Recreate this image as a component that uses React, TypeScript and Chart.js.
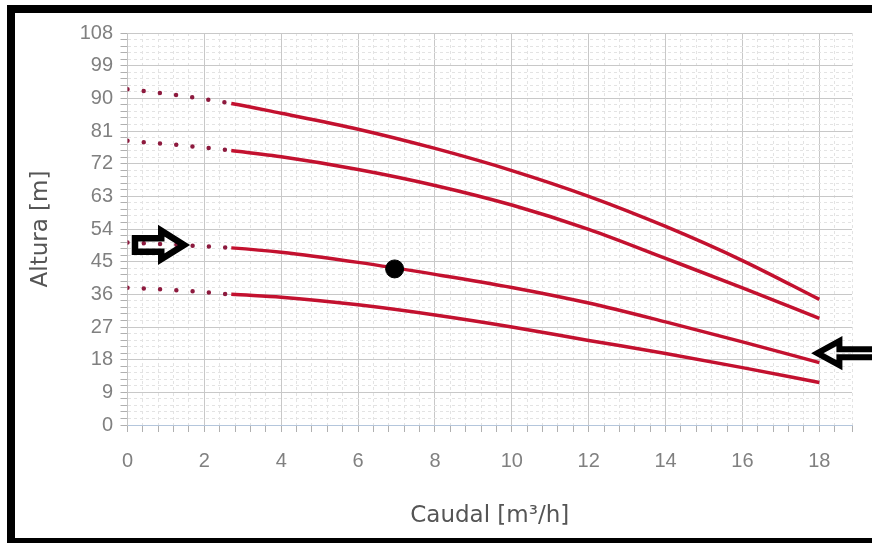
import React, { useEffect, useRef } from 'react';
import { Chart, registerables } from 'chart.js';

Chart.register(...registerables);

// ---- data ----
const flowValues = [0, 1.35, 2.7, 4, 6, 8, 10, 12, 14, 16, 18];
const headCurve1 = [92.5, 90.8, 88.6, 85.9, 81.5, 76.2, 70.1, 63.0, 54.7, 45.3, 34.6];
const headCurve2 = [78.3, 77.1, 75.6, 73.9, 70.4, 66.0, 60.6, 53.9, 45.9, 37.8, 29.4];
const headCurve3 = [50.3, 49.6, 48.8, 47.6, 44.8, 41.5, 37.9, 33.6, 28.4, 22.9, 17.2];
const headCurve4 = [37.8, 37.1, 36.0, 35.2, 33.1, 30.3, 27.0, 23.3, 19.7, 15.8, 11.7];
const dottedUntilFlow = 2.7;

const operatingPointX = [6.95];
const operatingPointY = [43.0];

const arrowTipX = [1.47, 17.95];
const arrowTipY = [49.6, 19.8];
const arrowPointsRight = [true, false];

const xMin = 0;
const xMax = 18.85;
const xMinorStep = 0.4;
const xMajorStep = 2;
const yMin = 0;
const yMax = 108;
const yMinorStep = 1.8;
const yMajorStep = 9;

const xAxisTitle = 'Caudal [m³/h]';
const yAxisTitle = 'Altura [m]';

// ---- styles ----
const LINE_COLOR = '#c3112f';
const DOT_COLOR = '#8d1a3e';
const MAJOR_GRID = '#c8c8c8';
const MINOR_GRID = '#e3e3e3';

const isMultiple = (v: number, step: number) => Math.abs(v / step - Math.round(v / step)) < 1e-6;
const isDotted = (ctx: any) => ctx.p1.parsed.x <= dottedUntilFlow + 1e-9;

const curveDataset = (values: number[]) => ({
  data: flowValues.map((x, i) => ({ x, y: values[i] })),
  showLine: true,
  pointRadius: 0,
  pointHoverRadius: 0,
  borderColor: LINE_COLOR,
  borderWidth: 3.5,
  cubicInterpolationMode: 'monotone' as const,
  order: 1,
  segment: {
    borderDash: (ctx: any) => (isDotted(ctx) ? [0, 16.3] : undefined),
    borderCapStyle: (ctx: any) => (isDotted(ctx) ? 'round' : 'butt'),
    borderColor: (ctx: any) => (isDotted(ctx) ? DOT_COLOR : LINE_COLOR),
    borderWidth: (ctx: any) => (isDotted(ctx) ? 4.5 : 3.5),
  },
});

const arrowPlugin = {
  id: 'hollowArrows',
  afterDraw(chart: any) {
    const { ctx, scales } = chart;
    const xs = scales.x;
    const ys = scales.y;
    arrowTipX.forEach((vx, i) => {
      const tx = xs.getPixelForValue(vx);
      const ty = ys.getPixelForValue(arrowTipY[i]);
      const right = arrowPointsRight[i];
      const d = right ? -1 : 1; // direction from tip toward tail
      const headLen = right ? 22.75 : 22;
      const headHalf = right ? 14.25 : 12;
      const bodyHalf = right ? 6.75 : 4;
      const total = right ? 49 : 70;
      ctx.save();
      ctx.beginPath();
      ctx.moveTo(tx, ty);
      ctx.lineTo(tx + d * headLen, ty - headHalf);
      ctx.lineTo(tx + d * headLen, ty - bodyHalf);
      ctx.lineTo(tx + d * total, ty - bodyHalf);
      ctx.lineTo(tx + d * total, ty + bodyHalf);
      ctx.lineTo(tx + d * headLen, ty + bodyHalf);
      ctx.lineTo(tx + d * headLen, ty + headHalf);
      ctx.closePath();
      ctx.lineWidth = right ? 6.5 : 6;
      ctx.lineJoin = 'miter';
      ctx.strokeStyle = '#000';
      ctx.stroke();
      ctx.restore();
    });
  },
};

export default function App() {
  const ref = useRef<HTMLCanvasElement>(null);

  useEffect(() => {
    const canvas = ref.current;
    if (!canvas) return;
    const chart = new Chart(canvas, {
      type: 'scatter',
      data: {
        datasets: [
          {
            data: operatingPointX.map((x, i) => ({ x, y: operatingPointY[i] })),
            pointRadius: 9,
            pointHoverRadius: 9,
            pointBackgroundColor: '#000',
            pointBorderColor: '#000',
            showLine: false,
            order: 0,
          } as any,
          curveDataset(headCurve1) as any,
          curveDataset(headCurve2) as any,
          curveDataset(headCurve3) as any,
          curveDataset(headCurve4) as any,
        ],
      },
      options: {
        responsive: false,
        devicePixelRatio: 1,
        animation: false,
        layout: { padding: { left: 15, top: 33, right: 20, bottom: 5 } },
        plugins: {
          legend: { display: false },
          tooltip: { enabled: false },
        },
        scales: {
          x: {
            type: 'linear',
            min: xMin,
            max: xMax,
            afterFit: (scale: any) => {
              scale.height = 113;
            },
            ticks: {
              stepSize: xMinorStep,
              autoSkip: false,
              maxRotation: 0,
              padding: 17,
              color: '#808080',
              font: { family: 'Liberation Sans, Arial, sans-serif', size: 20 },
              callback: (v: any) => (isMultiple(Number(v), xMajorStep) ? String(Math.round(Number(v))) : ''),
            },
            grid: {
              color: (c: any) => (c.tick && isMultiple(c.tick.value, xMajorStep) ? MAJOR_GRID : MINOR_GRID),
              lineWidth: 1,
              tickLength: 7,
              tickColor: '#b0b0b0',
            },
            border: {
              color: '#b4c6dc',
              width: 1,
              dash: (c: any) => (c.tick && !isMultiple(c.tick.value, xMajorStep) ? [3, 3] : []),
            },
            title: {
              display: true,
              text: xAxisTitle,
              color: '#555555',
              font: { family: 'DejaVu Sans', size: 23 },
              padding: { top: 0, bottom: 8 },
            },
          },
          y: {
            type: 'linear',
            min: yMin,
            max: yMax,
            afterFit: (scale: any) => {
              scale.width = 112.5;
            },
            ticks: {
              stepSize: yMinorStep,
              autoSkip: false,
              padding: 7.5,
              color: '#808080',
              font: { family: 'Liberation Sans, Arial, sans-serif', size: 20 },
              callback: (v: any) => (isMultiple(Number(v), yMajorStep) ? String(Math.round(Number(v))) : ''),
            },
            grid: {
              color: (c: any) => (c.tick && isMultiple(c.tick.value, yMajorStep) ? MAJOR_GRID : MINOR_GRID),
              lineWidth: 1,
              tickLength: 7,
              tickColor: '#b0b0b0',
            },
            border: {
              color: '#c4c4c4',
              width: 1,
              dash: (c: any) => (c.tick && !isMultiple(c.tick.value, yMajorStep) ? [3, 3] : []),
            },
            title: {
              display: true,
              text: yAxisTitle,
              color: '#555555',
              font: { family: 'DejaVu Sans', size: 23 },
              padding: { top: 12, bottom: 0 },
            },
          },
        },
      } as any,
      plugins: [arrowPlugin],
    });
    return () => chart.destroy();
  }, []);

  return (
    <div
      style={{
        position: 'fixed',
        left: 0,
        top: 0,
        width: 872,
        height: 543,
        overflow: 'hidden',
        background: '#fff',
      }}
    >
      <canvas ref={ref} width={872} height={543} style={{ display: 'block', width: 872, height: 543 }} />
      <div
        style={{
          position: 'absolute',
          left: 7,
          top: 5,
          width: 900,
          height: 538,
          boxSizing: 'border-box',
          borderLeft: '8px solid #000',
          borderTop: '8px solid #000',
          borderBottom: '5px solid #000',
          pointerEvents: 'none',
        }}
      />
    </div>
  );
}
